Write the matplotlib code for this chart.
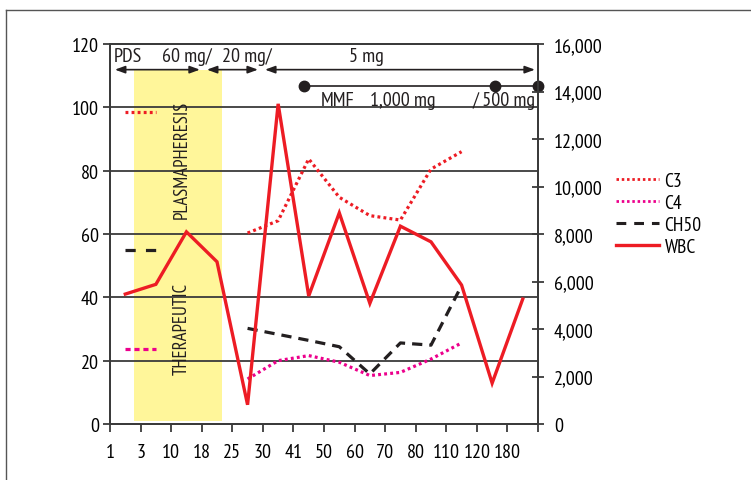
import numpy as np
import matplotlib
matplotlib.use("Agg")
import matplotlib.pyplot as plt
from matplotlib.lines import Line2D
from matplotlib.patches import Rectangle

plt.rcParams['font.family'] = ['PT Sans Narrow', 'DejaVu Sans']

# ---------------- data ----------------
day_labels = ['1', '3', '10', '18', '25', '30', '41', '50', '60', '70', '80', '110', '120', '180']
wbc = [5470, 5880, 8090, 6830, 810, 13480, 5390, 8890, 5080, 8330, 7670, 5850, 1720, 5260]
nan = np.nan
c3 = [nan, nan, nan, nan, 60.3, 64.2, 83.7, 71.6, 65.8, 64.4, 80.5, 86.0, nan, nan]
c4 = [nan, nan, nan, nan, 14.2, 20.0, 21.6, 19.5, 15.3, 16.3, 20.5, 25.6, nan, nan]
ch50 = [nan, nan, nan, nan, 30.2, 28.3, 26.4, 24.4, 15.8, 25.6, 24.9, 43.7, nan, nan]
# short reference marks at the first two days
ref_c3 = [98.4, 98.4]
ref_ch50 = [55.0, 55.0]
ref_c4 = [23.7, 23.7]

left_ticks = [0, 20, 40, 60, 80, 100, 120]
right_ticks = [0, 2000, 4000, 6000, 8000, 10000, 12000, 14000, 16000]
legend_labels = ['C3', 'C4', 'CH50', 'WBC']

RED = '#ed1c24'
MAG = '#ec008c'
BLK = '#231f20'
YEL = '#fff69a'
GRID = '#3a3a3a'

W, H = 751, 481
fig = plt.figure(figsize=(W / 100, H / 100), dpi=100)
L, R, B, T = 110, 538, 425, 45
ax = fig.add_axes([L / W, 1 - B / H, (R - L) / W, (B - T) / H])
ax2 = ax.twinx()

n = len(day_labels)
xpos = np.arange(n) + 0.5

# yellow shaded band
ax.add_patch(Rectangle((0.78, 0.8), 3.66 - 0.78, 111.9 - 0.8, facecolor=YEL,
                       edgecolor='none', zorder=0))
for yv in left_ticks[1:-1]:
    ax.axhline(yv, color=GRID, lw=1.3, zorder=1)

lw = 2.3
dot = (0, (0.9, 1.0))
ax.plot(xpos, c3, color=RED, lw=lw, ls=dot, dash_capstyle='butt', zorder=3)
ax.plot(xpos, c4, color=MAG, lw=lw, ls=dot, dash_capstyle='butt', zorder=3)
ax.plot(xpos, ch50, color=BLK, lw=lw, ls=(0, (3.2, 2.2)), dash_capstyle='butt', zorder=3)
ax.plot(xpos[:2], ref_c3, color=RED, lw=lw, ls=dot, dash_capstyle='butt', zorder=3)
ax.plot(xpos[:2], ref_ch50, color=BLK, lw=lw, ls=(0, (3.2, 3.2)), dash_capstyle='butt', zorder=3)
ax.plot(xpos[:2], ref_c4, color=MAG, lw=lw, ls=(0, (1.6, 1.2)), dash_capstyle='butt', zorder=3)

ax2.plot(xpos, wbc, color=RED, lw=2.4, zorder=4, solid_joinstyle='miter')

ax.set_xlim(0, n)
ax.set_ylim(0, 120)
ax2.set_ylim(0, 16000)
ax.set_xticks(np.arange(n + 1))
ax.set_xticklabels(day_labels + [''])
ax.set_yticks(left_ticks)
ax2.set_yticks(right_ticks)
ax2.set_yticklabels([f'{v:,}' for v in right_ticks])

fs = 14.5
ax.tick_params(axis='x', direction='out', length=6, width=1.3, pad=8, labelsize=fs, color=GRID)
ax.tick_params(axis='y', direction='out', length=5, width=1.3, pad=3, labelsize=fs, color=GRID)
ax2.tick_params(axis='y', direction='inout', length=9, width=1.3, pad=7, labelsize=fs, color=GRID)
for a in (ax, ax2):
    for s in a.spines.values():
        s.set_color(GRID)
        s.set_linewidth(1.3)
ax.set_zorder(ax2.get_zorder() - 1)
ax2.patch.set_visible(False)
ax.patch.set_visible(True)

# top annotations
ytxt = 114.7
for txt, xc in [('PDS', 0.58), ('60 mg/', 2.5), ('20 mg/', 4.49), ('5 mg', 8.39)]:
    ax.text(xc, ytxt, txt, ha='center', va='baseline', fontsize=fs, color=BLK)
yarr = 111.9
for x0, x1 in [(0.16, 2.94), (3.17, 4.84), (5.07, 13.9)]:
    ax.annotate('', xy=(x1, yarr), xytext=(x0, yarr),
                arrowprops=dict(arrowstyle='<|-|>,head_length=0.6,head_width=0.22',
                                color=BLK, lw=1.2, shrinkA=0, shrinkB=0))
ymmf = 106.8
ax.plot([6.34, 14.0], [ymmf, ymmf], color=BLK, lw=1.2, clip_on=False, zorder=5)
ax.plot([6.34, 12.58, 14.0], [ymmf] * 3, 'o', color=BLK, ms=7.5, clip_on=False, zorder=6)
for txt, xc in [('MMF', 7.44), ('1,000 mg', 9.58), ('/ 500 mg', 12.9)]:
    ax.text(xc, 100.7, txt, ha='center', va='baseline', fontsize=fs, color=BLK, zorder=6)

ax.text(2.36, 83.7, 'PLASMAPHERESIS', rotation=90, ha='center', va='center',
        fontsize=13.5, color=BLK, zorder=6)
ax.text(2.36, 30.3, 'THERAPEUTIC', rotation=90, ha='center', va='center',
        fontsize=13.5, color=BLK, zorder=6)

# legend
handles = [
    Line2D([], [], color=RED, lw=2, ls=dot, dash_capstyle='butt'),
    Line2D([], [], color=MAG, lw=2, ls=dot, dash_capstyle='butt'),
    Line2D([], [], color=BLK, lw=2.2, ls=(0, (3.2, 2.6)), dash_capstyle='butt'),
    Line2D([], [], color=RED, lw=2.4),
]
fig.legend(handles, legend_labels, loc='upper left', bbox_to_anchor=(616 / W, 1 - 173 / H),
           frameon=False, fontsize=14, handlelength=2.2, handletextpad=0.3,
           labelspacing=0.2, borderpad=0, borderaxespad=0)

# partial outer frame
fig.add_artist(Line2D([6 / W, 1], [1 - 10.7 / H] * 2, color='#555555', lw=1.0))
fig.add_artist(Line2D([6 / W] * 2, [0, 1 - 10.7 / H], color='#555555', lw=1.0))

fig.savefig('out.png', dpi=100)
